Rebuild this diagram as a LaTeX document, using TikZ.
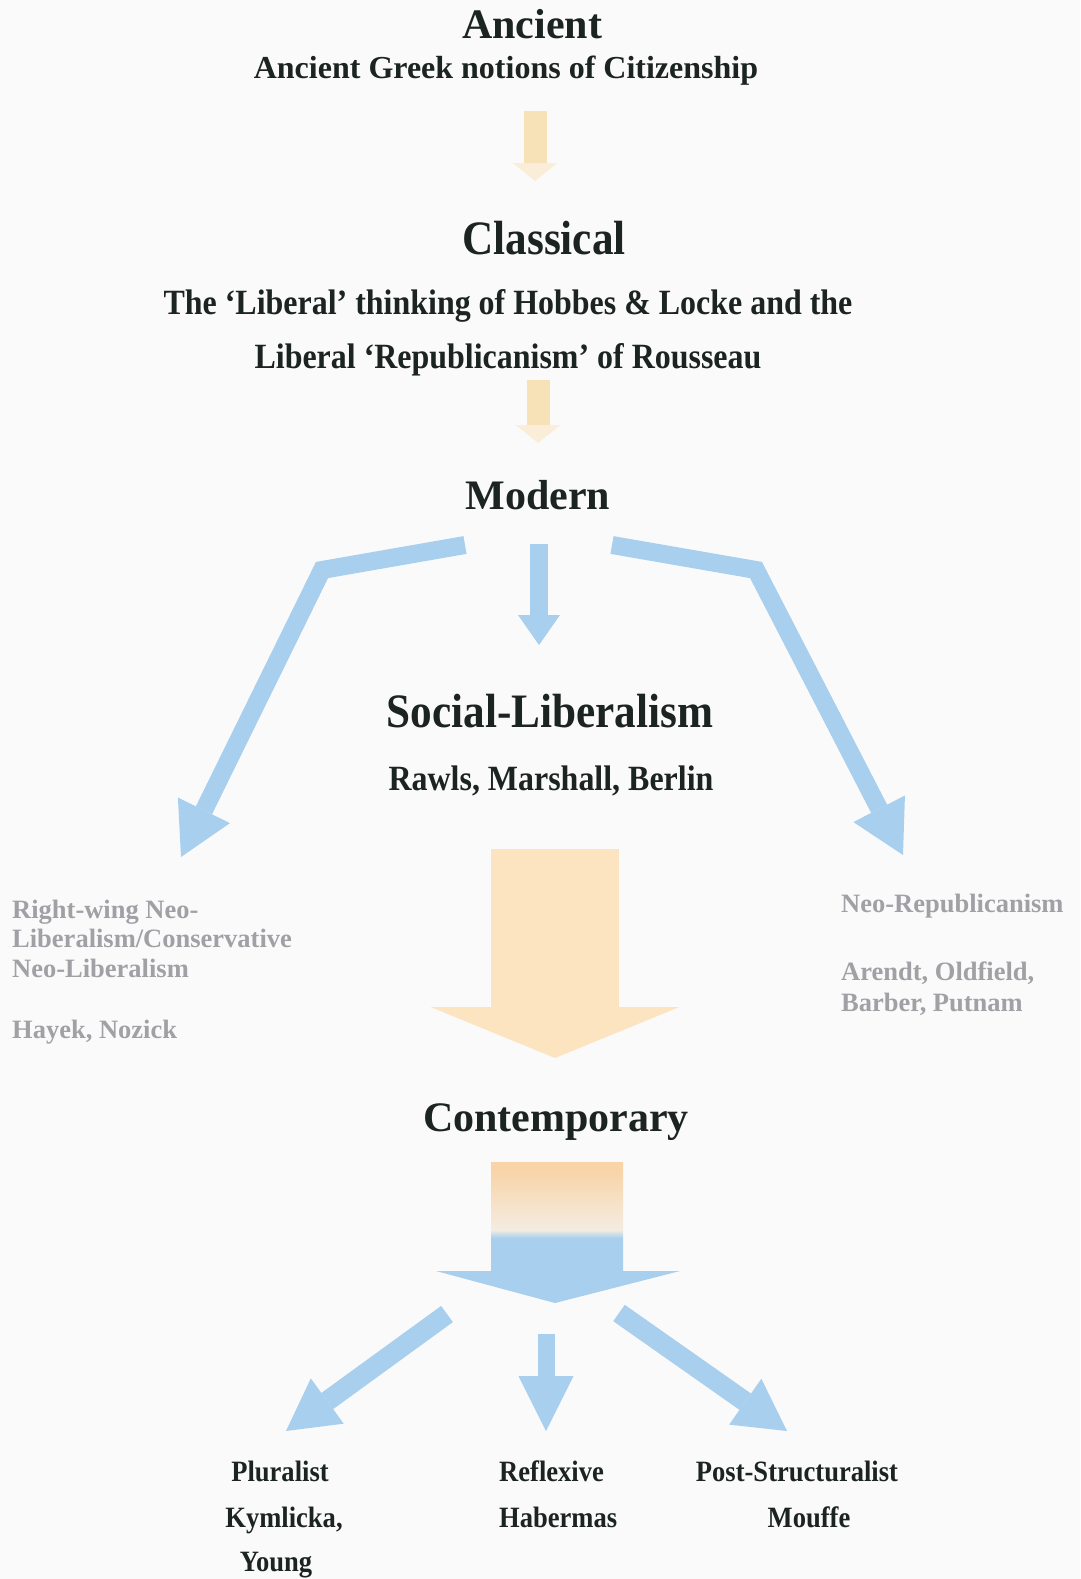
\documentclass[tikz,border=0pt]{standalone}
\usepackage{fontspec}
\setmainfont{Liberation Serif}
\newfontfamily\condfont[FakeStretch=0.9]{Liberation Serif}
\usetikzlibrary{arrows.meta}
\definecolor{ink}{RGB}{28,36,34}
\definecolor{greytext}{RGB}{160,160,165}
\definecolor{skyarrow}{RGB}{168,207,238}
\definecolor{peach}{RGB}{252,228,192}
\definecolor{paleorange}{RGB}{247,226,184}
\definecolor{paleorangehead}{RGB}{251,238,217}
\definecolor{gradorange}{RGB}{248,212,168}
\definecolor{midwhite}{RGB}{244,236,226}
\definecolor{bg}{RGB}{251,250,250}
\pgfdeclareverticalshading{contshade}{100bp}{color(0bp)=(skyarrow); color(48bp)=(skyarrow); color(51bp)=(midwhite); color(72bp)=(gradorange); color(100bp)=(gradorange)}
\begin{document}
\begin{tikzpicture}[x=1pt,y=-1pt,
  heading/.style={anchor=base, text=ink, inner sep=0pt, font=\fontsize{42}{48}\selectfont\bfseries},
  condhead/.style={anchor=base, text=ink, inner sep=0pt, font=\condfont\fontsize{48}{54}\selectfont\bfseries},
  subline/.style={anchor=base, text=ink, inner sep=0pt, font=\condfont\fontsize{35.5}{40}\selectfont\bfseries},
  greek/.style={anchor=base, text=ink, inner sep=0pt, font=\fontsize{32}{36}\selectfont\bfseries},
  sidetext/.style={anchor=base west, text=greytext, inner sep=0pt, font=\fontsize{26.5}{30}\selectfont\bfseries},
  leaf/.style={anchor=base, text=ink, inner sep=0pt, font=\condfont\fontsize{29.5}{34}\selectfont\bfseries},
  thinorange/.style={draw=paleorange, line width=23pt, -{Triangle[length=18pt,width=45pt,line width=0pt,color=paleorangehead]}},
  bluearrow/.style={draw=skyarrow, line width=18pt, line join=miter, -{Triangle[length=52pt,width=58pt,line width=0pt]}},
  bluecenter/.style={draw=skyarrow, line width=18pt, -{Triangle[length=30pt,width=42pt,line width=0pt]}},
  bluebottom/.style={draw=skyarrow, line width=20pt, -{Triangle[length=51pt,width=56pt,line width=0pt]}},
  bluebottomc/.style={draw=skyarrow, line width=17pt, -{Triangle[length=55pt,width=55pt,line width=0pt]}},
  peacharrow/.style={draw=peach, line width=128pt, -{Triangle[length=51pt,width=249pt,line width=0pt]}}
]
\useasboundingbox (0,0) rectangle (1080,1579);
\fill[bg] (0,0) rectangle (1080,1579);

% texts
\node[heading] (ancient) at (532,39) {Ancient};
\node[greek] (ancientsub) at (506,78) {Ancient Greek notions of Citizenship};
\node[condhead] (classical) at (544,254) {Classical};
\node[subline] (classA) at (508,314) {The ‘Liberal’ thinking of Hobbes \& Locke and the};
\node[subline] (classB) at (508,368) {Liberal ‘Republicanism’ of Rousseau};
\node[heading] (modern) at (538,509) {Modern};
\node[condhead] (social) at (550,727) {Social-Liberalism};
\node[subline] (rawls) at (551,790) {Rawls, Marshall, Berlin};

\node[sidetext] (rw1) at (12,918) {Right-wing Neo-};
\node[sidetext] (rw2) at (12,947) {Liberalism/Conservative};
\node[sidetext] (rw3) at (12,977) {Neo-Liberalism};
\node[sidetext] (rw4) at (12,1038) {Hayek, Nozick};

\node[sidetext] (nr1) at (841,912) {Neo-Republicanism};
\node[sidetext] (nr2) at (841,980) {Arendt, Oldfield,};
\node[sidetext] (nr3) at (841,1011) {Barber, Putnam};

\node[heading] (contemp) at (556,1131) {Contemporary};

\node[leaf] (plur) at (280,1481) {Pluralist};
\node[leaf] (kym) at (284,1527) {Kymlicka,};
\node[leaf] (young) at (276,1571) {Young};
\node[leaf, anchor=base west] (refl) at (499,1481) {Reflexive};
\node[leaf, anchor=base west] (haber) at (499,1527) {Habermas};
\node[leaf] (poststr) at (797,1481) {Post-Structuralist};
\node[leaf] (mouffe) at (809,1527) {Mouffe};

% arrow end points
\coordinate (a1s) at (535,111);
\coordinate (a1e) at (535,181);
\coordinate (a2s) at (538,380);
\coordinate (a2e) at (538,443);
\coordinate (mls) at (465,545);
\coordinate (mlb) at (322,570);
\coordinate (mle) at (181,857);
\coordinate (mrs) at (612,545);
\coordinate (mrb) at (756,570);
\coordinate (mre) at (903,855);
\coordinate (mcs) at (539,544);
\coordinate (mce) at (539,645);
\coordinate (pks) at (555,849);
\coordinate (pke) at (555,1058);
\coordinate (bls) at (447,1314);
\coordinate (ble) at (286,1431);
\coordinate (bcs) at (546,1334);
\coordinate (bce) at (546,1431);
\coordinate (brs) at (619,1313);
\coordinate (bre) at (787,1431);

\draw[thinorange] (a1s) -- (a1e);
\draw[thinorange] (a2s) -- (a2e);
\draw[bluearrow] (mls) -- (mlb) -- (mle);
\draw[bluearrow] (mrs) -- (mrb) -- (mre);
\draw[bluecenter] (mcs) -- (mce);
\draw[peacharrow] (pks) -- (pke);

\shade[shading=contshade] (491,1162) -- (623,1162) -- (623,1271) -- (680,1271) -- (555,1303) -- (436,1271) -- (491,1271) -- cycle;

\draw[bluebottom] (bls) -- (ble);
\draw[bluebottomc] (bcs) -- (bce);
\draw[bluebottom] (brs) -- (bre);
\end{tikzpicture}
\end{document}
